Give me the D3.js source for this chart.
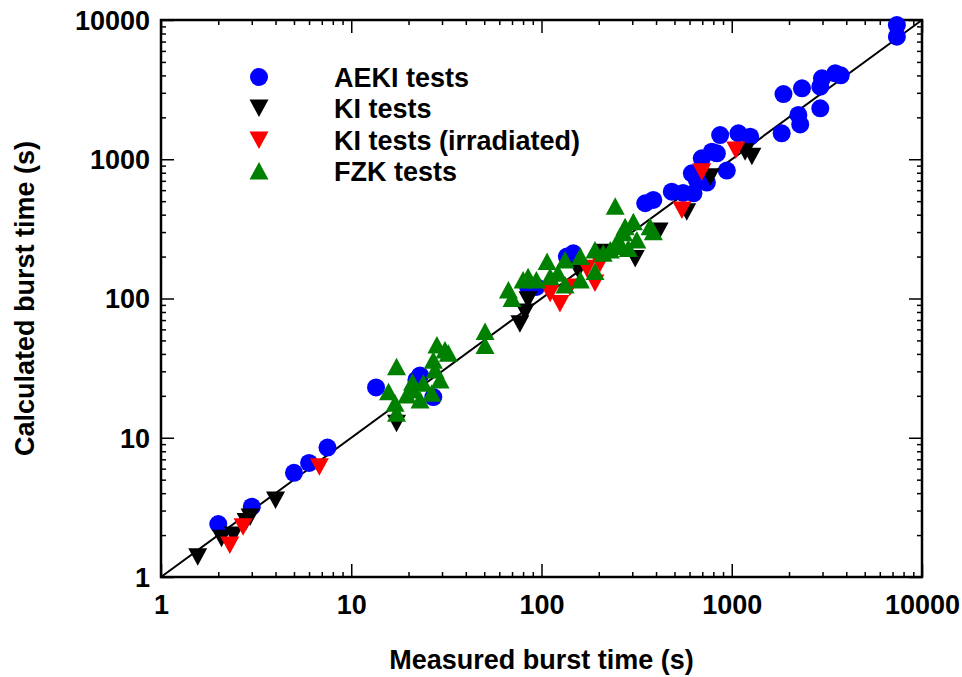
<!DOCTYPE html>
<html>
<head>
<meta charset="utf-8">
<script src="https://cdn.jsdelivr.net/npm/d3@7"></script>
<style>
  body { margin: 0; background: #fff; }
  text { font-family: "Liberation Sans", Arial, sans-serif; font-weight: bold; }
</style>
</head>
<body>
<div id="chart"></div>
<script>
// measured vs calculated burst time [measured, calculated]
var aekiTests = [
  [2.0, 2.4], [3.0, 3.2], [5.0, 5.6], [6.0, 6.6], [7.5, 8.5], [13.5, 23], [27, 19.6], [22, 26], [23, 28],
  [85, 121], [94, 121], [136, 200], [147, 211],
  [351, 483], [387, 510], [484, 585], [555, 573], [629, 569], [617, 793], [655, 710], [696, 1016], [740, 680],
  [786, 1133], [835, 1104], [869, 1493], [942, 830], [1084, 1535], [1250, 1452],
  [1830, 1535], [1870, 2940], [2240, 2080], [2290, 1780], [2340, 3230], [2920, 3320], [2920, 2320],
  [2980, 3810], [3500, 4140], [3740, 4010], [7380, 9200], [7380, 7590]
];
var kiTests = [
  [1.56, 1.4], [2.08, 1.9], [2.4, 2.0], [2.8, 2.5], [2.94, 2.7], [4.0, 3.57], [17.3, 12.7],
  [77, 66], [82, 80], [85, 98], [156, 160], [215, 215], [311, 194], [415, 305], [580, 420],
  [772, 750], [1175, 1133], [1276, 1050]
];
var kiIrradiated = [
  [2.3, 1.7], [2.7, 2.3], [6.8, 6.2], [111, 109], [125, 92], [141, 121], [173, 165], [191, 129],
  [203, 179], [547, 432], [696, 814], [1050, 1165]
];
var fzkTests = [
  [17.3, 32.4], [15.7, 21.4], [17, 17.7], [17.3, 15], [19.6, 20.3], [21.2, 22], [21, 25], [23.9, 24.6],
  [23, 18.7], [26.5, 20.9], [27.6, 30.7], [27, 36], [28.2, 46.4], [31.1, 42.7], [32.4, 40.4], [29.3, 26],
  [50.5, 58], [50.5, 46], [67, 115], [70, 100], [80, 136], [85, 143], [94, 136], [107, 184], [111, 143],
  [122, 152], [133, 189], [133, 125], [160, 200], [160, 136], [191, 223], [191, 156], [244, 460],
  [253, 263], [270, 296], [211, 211], [230, 223], [259, 236], [275, 328], [286, 229], [304, 356],
  [317, 263], [372, 328], [387, 302]
];
var tickValues = [1, 10, 100, 1000, 10000];
var legendLabels = ["AEKI tests", "KI tests", "KI tests (irradiated)", "FZK tests"];

var W = 962, H = 677;
var margin = {top: 20, right: 40, bottom: 100, left: 161};
var width = 922 - margin.left,
    height = 577 - margin.top;

var svg = d3.select("#chart").append("svg")
    .attr("width", W)
    .attr("height", H);

var g = svg.append("g")
    .attr("transform", "translate(" + margin.left + "," + margin.top + ")");

var x = d3.scaleLog().domain([1, 10000]).range([0, width]);
var y = d3.scaleLog().domain([1, 10000]).range([height, 0]);

// minor ticks 2..9 of each decade
var minor = [];
for (var d = 1; d < 10000; d *= 10) {
  for (var k = 2; k <= 9; k++) minor.push(d * k);
}

function styleAxis(sel) {
  sel.select(".domain").remove();
  sel.selectAll(".tick line").attr("stroke", "#000").attr("stroke-width", 1.5);
}

// major + minor ticks, pointing inward on all four sides
g.append("g").attr("transform", "translate(0," + height + ")")
  .call(d3.axisBottom(x).tickValues(minor).tickSize(-5).tickFormat(""))
  .call(styleAxis);
g.append("g").attr("transform", "translate(0," + height + ")")
  .call(d3.axisBottom(x).tickValues(tickValues).tickSize(-13).tickPadding(24).tickFormat(d3.format("d")))
  .call(styleAxis)
  .selectAll("text").attr("font-size", 27).attr("fill", "#000").attr("dy", null).attr("y", 37);

g.append("g")
  .call(d3.axisTop(x).tickValues(minor).tickSize(-5).tickFormat(""))
  .call(styleAxis);
g.append("g")
  .call(d3.axisTop(x).tickValues(tickValues).tickSize(-13).tickFormat(""))
  .call(styleAxis);

g.append("g")
  .call(d3.axisLeft(y).tickValues(minor).tickSize(-5).tickFormat(""))
  .call(styleAxis);
g.append("g")
  .call(d3.axisLeft(y).tickValues(tickValues).tickSize(-13).tickFormat(d3.format("d")))
  .call(styleAxis)
  .selectAll("text").attr("font-size", 27).attr("fill", "#000").attr("x", -11).attr("dy", "0.35em");

g.append("g").attr("transform", "translate(" + width + ",0)")
  .call(d3.axisRight(y).tickValues(minor).tickSize(-5).tickFormat(""))
  .call(styleAxis);
g.append("g").attr("transform", "translate(" + width + ",0)")
  .call(d3.axisRight(y).tickValues(tickValues).tickSize(-13).tickFormat(""))
  .call(styleAxis);

// frame
g.append("rect")
  .attr("width", width).attr("height", height)
  .attr("fill", "none").attr("stroke", "#000").attr("stroke-width", 2.5);

// 1:1 line
g.append("line")
  .attr("x1", x(1)).attr("y1", y(1))
  .attr("x2", x(10000)).attr("y2", y(10000))
  .attr("stroke", "#000").attr("stroke-width", 2);

var triUp = "M0,-9L9.5,8.5L-9.5,8.5Z";
var triDown = "M0,9L9.5,-8.5L-9.5,-8.5Z";

function drawCircles(data, color) {
  g.append("g").selectAll("circle")
    .data(data).enter().append("circle")
    .attr("cx", function(d) { return x(d[0]); })
    .attr("cy", function(d) { return y(d[1]); })
    .attr("r", 9)
    .attr("fill", color);
}
function drawTri(data, path, color) {
  g.append("g").selectAll("path")
    .data(data).enter().append("path")
    .attr("d", path)
    .attr("transform", function(d) { return "translate(" + x(d[0]) + "," + y(d[1]) + ")"; })
    .attr("fill", color);
}

drawCircles(aekiTests, "#0000ff");
drawTri(kiTests, triDown, "#000000");
drawTri(kiIrradiated, triDown, "#ff0000");
drawTri(fzkTests, triUp, "#008000");

// legend
var legend = svg.append("g");
var legendY = [77, 108, 140, 171];
legend.append("circle").attr("cx", 259).attr("cy", legendY[0]).attr("r", 9).attr("fill", "#0000ff");
legend.append("path").attr("d", triDown).attr("transform", "translate(259," + legendY[1] + ")").attr("fill", "#000000");
legend.append("path").attr("d", triDown).attr("transform", "translate(259," + legendY[2] + ")").attr("fill", "#ff0000");
legend.append("path").attr("d", triUp).attr("transform", "translate(259," + legendY[3] + ")").attr("fill", "#008000");
legend.selectAll("text")
  .data(legendLabels).enter().append("text")
  .attr("x", 334)
  .attr("y", function(d, i) { return legendY[i] + 9.5; })
  .attr("font-size", 27)
  .text(function(d) { return d; });

// axis titles
svg.append("text")
  .attr("x", margin.left + width / 2)
  .attr("y", 669)
  .attr("text-anchor", "middle")
  .attr("font-size", 27)
  .text("Measured burst time (s)");

svg.append("text")
  .attr("transform", "translate(34," + (margin.top + height / 2) + ") rotate(-90)")
  .attr("text-anchor", "middle")
  .attr("font-size", 27)
  .text("Calculated burst time (s)");
</script>
</body>
</html>
